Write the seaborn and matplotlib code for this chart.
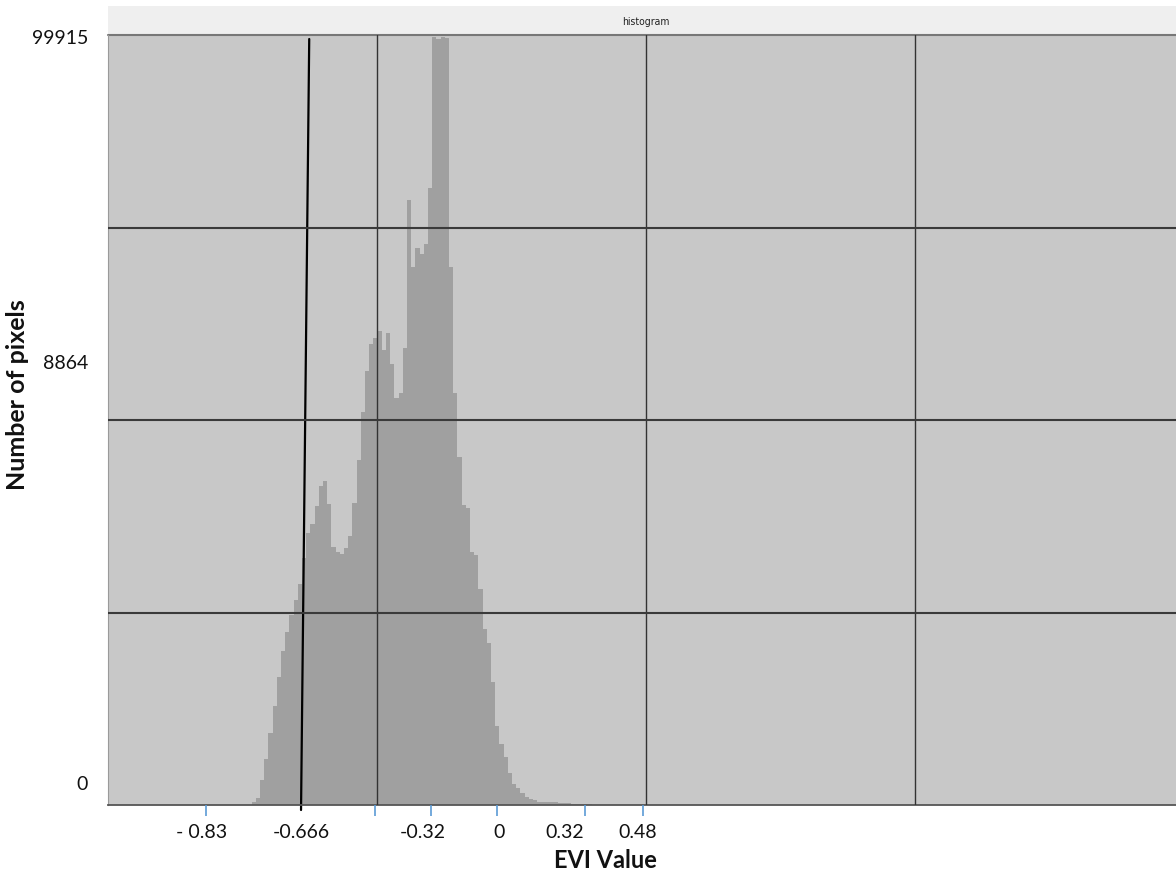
import numpy as np
import pandas as pd
import matplotlib
matplotlib.use("Agg")
import matplotlib.pyplot as plt
from matplotlib.patches import Rectangle
import seaborn as sns

# Pixel counts per EVI bin (81 equal-width bins, left to right)
counts = [429, 975, 3316, 5982, 9299, 12875, 16646, 19963, 22538, 24710,
          26621, 28741, 32122, 35309, 36544, 38885, 41421, 42071, 39145, 33488,
          32942, 32578, 33423, 34984, 39236, 44867, 51149, 56442, 59953, 60695,
          61644, 59173, 61345, 57287, 52865, 53516, 59433, 78680, 69927, 72398,
          71592, 72919, 80241, 99850, 99577, 99915, 99707, 70006, 53555, 45297,
          38950, 38664, 32837, 32512, 28090, 22889, 21042, 16035, 10274, 7868,
          6307, 4162, 2731, 2172, 1600, 1079, 780, 650, 429, 429,
          351, 351, 351, 221, 221, 221, 169, 169, 169, 130, 91]

# Axis annotations (positions in bin units along the x axis)
x_tick_labels = ["- 0.83", "-0.666", "-0.32", "0", "0.32", "0.48"]
x_label_pos = [-11.8, 11.8, 40.8, 58.9, 74.6, 92.0]
x_tick_marks = [-10.83, 29.40, 42.74, 58.45, 79.40, 93.21]
y_tick_labels = ["99915", "8864", "0"]
y_label_frac = [0.995, 0.574, 0.026]

# Threshold line (bin units at bottom / top of the panel)
threshold_x = [11.79, 13.74]
threshold_y = [-0.0065, 0.9948]

df = pd.DataFrame({"bin": np.arange(len(counts)) + 0.5, "count": counts})

sns.set_style("white")
plt.rcParams["font.family"] = ["Lato", "DejaVu Sans"]

W, H = 1176, 873
fig = plt.figure(figsize=(W / 100, H / 100), dpi=100)
ax = fig.add_axes([108 / W, (H - 805) / H, 1076 / W, 770 / H])
ax.set_facecolor("#c8c8c8")

sns.histplot(data=df, x="bin", weights="count", bins=len(counts),
             binrange=(0, len(counts)), element="step",
             fill=True, color="#a0a0a0", alpha=1.0, linewidth=0, ax=ax)

ax.set_xlim(-34.17, 222.02)
y_top = max(counts) * 1.0022
ax.set_ylim(0, y_top)

# Grid
ax.set_xticks([29.88 + 64.05 * i for i in range(3)])
ax.set_yticks([y_top * f for f in (0.25, 0.5, 0.75)])
ax.set_xticklabels([])
ax.set_yticklabels([])
ax.tick_params(which="major", length=0)
ax.set_axisbelow(False)
ax.grid(True, axis="x", which="major", color="#333333", linewidth=1.0)
ax.grid(True, axis="y", which="major", color="#3a3a3a", linewidth=1.5)

# Blue tick marks on the x axis
ax.set_xticks(x_tick_marks, minor=True)
ax.tick_params(axis="x", which="minor", length=8, width=1.2, color="#5b9bd5",
               direction="out", bottom=True)
ax.set_xlabel("")
ax.set_ylabel("")

for s in ax.spines.values():
    s.set_visible(False)
ax.spines["bottom"].set_visible(True)
ax.spines["bottom"].set_color("#555555")
ax.spines["bottom"].set_linewidth(1.3)
ax.spines["left"].set_visible(True)
ax.spines["left"].set_color("#9a9a9a")
ax.spines["left"].set_linewidth(0.8)

# Threshold line
ax.plot(threshold_x, threshold_y, color="black", linewidth=1.6,
        transform=ax.get_xaxis_transform(), clip_on=False)

# Title strip
strip_h = 29 / 770
ax.add_patch(Rectangle((0, 1.0), 1.0, strip_h, transform=ax.transAxes,
                       facecolor="#efefef", edgecolor="none", clip_on=False))
ax.plot([0, 1], [1.0, 1.0], transform=ax.transAxes, color="#777777",
        linewidth=1.5, clip_on=False)
ax.text(0.5, 1.0 + 8 / 770, "histogram", transform=ax.transAxes,
        ha="center", va="bottom", fontsize=7.5, fontstretch="condensed",
        family=["Liberation Sans Narrow", "DejaVu Sans"], color="#222222")

# Axis annotations
xt = ax.get_xaxis_transform()
for lab, pos in zip(x_tick_labels, x_label_pos):
    ax.text(pos, -27 / 770, lab, transform=xt, ha="center", va="center",
            fontsize=14, color="#111111", clip_on=False)
for lab, f in zip(y_tick_labels, y_label_frac):
    ax.text(-20 / 1076, f, lab, transform=ax.transAxes, ha="right",
            va="center", fontsize=14, color="#111111", clip_on=False)

fig.text(605 / W, 1 - 861 / H, "EVI Value", ha="center", va="center",
         fontsize=17, fontweight="bold", color="#111111")
fig.text(18 / W, 1 - 395 / H, "Number of pixels", ha="center", va="center",
         rotation=90, fontsize=18, fontweight="bold", color="#111111")

fig.savefig("out.png", dpi=100, facecolor="white")
